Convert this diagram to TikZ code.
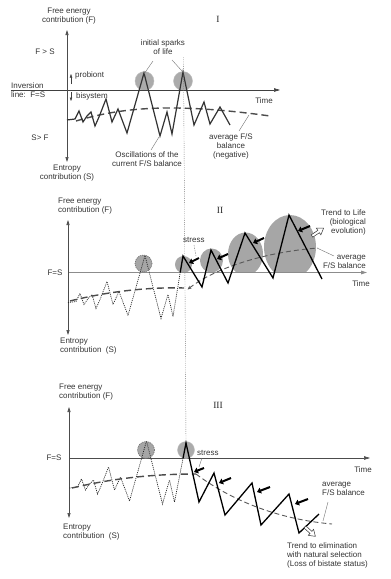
\documentclass[tikz,border=0pt]{standalone}
\usepackage{fontspec}
\setmainfont{Liberation Sans}
\newfontfamily\romfont{Liberation Serif}
\usetikzlibrary{arrows.meta}
\begin{document}
\begin{tikzpicture}[x=1pt,y=-1pt,
  lbl/.style={font=\fontsize{8}{9}\selectfont, text=black!80, inner sep=0pt, align=center},
  roman/.style={font=\romfont\fontsize{9.5}{10}\selectfont, text=black!85, inner sep=0pt},
  vaxis/.style={black!70, line width=0.6pt, {Triangle[length=5pt,width=3pt]}-{Triangle[length=5pt,width=3pt]}},
  timeax/.style={line width=0.6pt, -{Triangle[length=6pt,width=3.5pt]}},
  zig/.style={black!80, line width=1.2pt},
  zigB/.style={black, line width=1.3pt},
  dotz/.style={black!85, line width=0.7pt, dash pattern=on 1pt off 1pt},
  avgthick/.style={black!70, line width=1.4pt, dash pattern=on 7pt off 4pt},
  avgthin/.style={black!65, line width=0.9pt, dash pattern=on 5pt off 3pt},
  leader/.style={black!55, line width=0.4pt},
  sparkc/.style={fill=black!33, draw=black!25, line width=0.4pt},
  sparkdot/.style={fill=black!35, draw=black!60, line width=0.6pt, dash pattern=on 1pt off 1pt},
  domefill/.style={fill=black!35},
  stressarr/.style={black, line width=2pt, -{Triangle[length=4pt,width=6pt]}},
  hollow/.style={draw=black!80, fill=white, line width=0.5pt},
]
\useasboundingbox (0,0) rectangle (391,579);

% ================= Panel I =================
\fill[sparkc] (144.5,81) circle[radius=9.5pt];
\fill[sparkc] (183,81) circle[radius=9.5pt];
\coordinate (i0) at (11,90);
\coordinate (i1) at (280,90);
\draw[timeax, black!75] (i0) -- (i1);
\coordinate (a1t) at (67,30);
\coordinate (a1b) at (67,162);
\draw[vaxis] (a1t) -- (a1b);
% probiont / bisystem arrows
\coordinate (pu0) at (71,84); \coordinate (pu1) at (71,74);
\coordinate (pd0) at (71,92); \coordinate (pd1) at (71,101);
\draw[black!75, line width=0.5pt, -{Triangle[length=3.5pt,width=2.5pt]}] (pu0) -- (pu1);
\draw[black!75, line width=0.5pt, -{Triangle[length=3.5pt,width=2.5pt]}] (pd0) -- (pd1);
% average dashed
\draw[avgthick] (76,121) .. controls (120,108) and (170,102) .. (270,116);
% zigzag
\draw[zig] (67,120) -- (75,119) -- (79,111) -- (83,122) -- (87,116) -- (91,112) -- (95,126) -- (99,117) -- (106,99) -- (112,122) -- (118,109) -- (127,133) -- (144,73) -- (160,136) -- (167,112) -- (172,134) -- (183,72) -- (194,125) -- (204,102) -- (210,124) -- (220,107) -- (230,125);
% dotted vertical
\coordinate (vt) at (183.5,57);
\coordinate (vb) at (186,442);
\draw[black!55, line width=0.4pt, dash pattern=on 1pt off 1.2pt] (vt) -- (vb);
% labels
\node[lbl] (fe1) at (69,16.5) {Free energy\\contribution (F)};
\node[lbl] (fs1) at (45,52) {F > S};
\node[lbl] (sf1) at (40,138) {S> F};
\node[lbl, anchor=west, align=left] (inv) at (11,90.5) {Inversion\\line:\ \ F=S};
\node[lbl] (en1) at (67,173.5) {Entropy\\contribution (S)};
\node[roman] (r1) at (218,19) {I};
\node[lbl] (t1) at (264,101) {Time};
\node[lbl] (sp) at (163,47) {initial sparks\\of life};
\node[lbl] (osc) at (147,159.5) {Oscillations of the\\current F/S balance};
\node[lbl] (avg1) at (231,146) {average F/S\\balance\\(negative)};
\node[lbl, anchor=west] (pb) at (75,75) {probiont};
\node[lbl, anchor=west] (bs) at (76,96) {bisystem};
% leaders
\coordinate (l1a) at (153,61); \coordinate (l1b) at (144,74);
\coordinate (l2a) at (172,60); \coordinate (l2b) at (182,71);
\coordinate (l3a) at (151,150); \coordinate (l3b) at (159,137);
\coordinate (l4a) at (239,131); \coordinate (l4b) at (249,115);
\draw[leader] (l1a) -- (l1b);
\draw[leader] (l2a) -- (l2b);
\draw[leader] (l3a) -- (l3b);
\draw[leader] (l4a) -- (l4b);

% ================= Panel II =================
\begin{scope}
\clip (0,0) rectangle (391,272.5);
\fill[domefill] (183.5,264.5) circle[radius=8.5pt];
\fill[domefill] (211.5,260.5) ellipse[x radius=11.5pt, y radius=12pt];
\fill[domefill] (245.5,254) ellipse[x radius=17.5pt, y radius=21.5pt];
\fill[domefill] (290,247) ellipse[x radius=26pt, y radius=32pt];
\end{scope}
\coordinate (h2a) at (68,272.5);
\coordinate (h2b) at (367,272.5);
\draw[timeax, black!45, line width=1.1pt] (h2a) -- (h2b);
\coordinate (a2t) at (68,220);
\coordinate (a2b) at (68,335);
\draw[vaxis] (a2t) -- (a2b);
\begin{scope}[shift={(1,182.5)}]
\fill[sparkdot] (142.5,81) circle[radius=8.5pt];
\draw[dotz] (67,120) -- (75,119) -- (79,111) -- (83,122) -- (87,116) -- (91,112) -- (95,126) -- (99,117) -- (106,99) -- (112,122) -- (118,109) -- (127,133) -- (144,73) -- (160,136) -- (167,112) -- (172,134) -- (179.2,90);
\end{scope}
\draw[avgthick] (70,301) .. controls (110,291) and (150,287) .. (184,288);
\draw[avgthin, {Stealth[length=4pt,width=3.5pt]}-] (187.5,289.5) .. controls (215,268) and (265,252) .. (318,248);
\draw[zigB] (180.2,272.5) -- (183,256) -- (202,287) -- (211,250) -- (228,283) -- (245,233) -- (273,278) -- (289,215) -- (322,279);
% stress arrows
\draw[stressarr] (199,258) -- (189,263);
\draw[stressarr] (228,254) -- (217,259);
\draw[stressarr] (264,238) -- (253,243);
\draw[stressarr] (310,226) -- (298,231);
% hollow arrow
\begin{scope}[shift={(312,236)}, rotate=34]
\draw[hollow] (0,-1.4) -- (8,-1.4) -- (8,-4) -- (14,0) -- (8,4) -- (8,1.4) -- (0,1.4) -- cycle;
\end{scope}
% labels
\node[lbl, anchor=west, align=left] (fe2) at (58,206.5) {Free energy\\contribution (F)};
\node[lbl] (fs2) at (55,272.5) {F=S};
\node[lbl, anchor=west, align=left] (en2) at (60,346.5) {Entropy\\contribution\ \ (S)};
\node[roman] (r2) at (220,210) {II};
\node[lbl, anchor=west] (st2) at (183,240) {stress};
\node[lbl, anchor=east, align=right] (tl) at (366,222) {Trend to Life\\(biological\\evolution)};
\node[lbl, anchor=east, align=right] (avg2) at (366,261.5) {average\\F/S balance};
\node[lbl] (t2) at (361,284) {Time};
\coordinate (s2a) at (194,245); \coordinate (s2b) at (196,256);
\draw[leader, dash pattern=on 1.5pt off 1pt] (s2a) -- (s2b);
\coordinate (l5a) at (334,256); \coordinate (l5b) at (317,248);
\draw[leader] (l5a) -- (l5b);

% ================= Panel III =================
\coordinate (h3a) at (69,458);
\coordinate (h3b) at (370,458);
\draw[timeax, black!70] (h3a) -- (h3b);
\coordinate (a3t) at (69,407);
\coordinate (a3b) at (69,518);
\draw[vaxis] (a3t) -- (a3b);
\fill[sparkc] (186,450) circle[radius=8.5pt];
\begin{scope}[shift={(2.5,368)}]
\fill[sparkdot] (143.5,82) circle[radius=8.5pt];
\draw[dotz] (67,120) -- (75,119) -- (79,111) -- (83,122) -- (87,116) -- (91,112) -- (95,126) -- (99,117) -- (106,99) -- (112,122) -- (118,109) -- (127,133) -- (144,73) -- (160,136) -- (167,112) -- (172,134) -- (180.6,90);
\end{scope}
\draw[avgthick] (72,488) .. controls (110,479) and (150,474) .. (196,474);
\draw[avgthin] (196,474) .. controls (220,492) and (265,518) .. (332,524);
\draw[zigB] (183.1,458) -- (186,443) -- (199,502) -- (214,473) -- (225,515) -- (252,483) -- (261,525) -- (289,494) -- (299,533) -- (319,514);
\draw[stressarr] (204,468) -- (194,472);
\draw[stressarr] (231,478) -- (219,483);
\draw[stressarr] (270,487) -- (257,492);
\draw[stressarr] (308,499) -- (295,504);
\begin{scope}[shift={(305,527)}, rotate=-42]
\draw[hollow] (0,-1.4) -- (8,-1.4) -- (8,-4) -- (14,0) -- (8,4) -- (8,1.4) -- (0,1.4) -- cycle;
\end{scope}
\node[lbl, anchor=west, align=left] (fe3) at (59,392) {Free energy\\contribution (F)};
\node[lbl] (fs3) at (54,458) {F=S};
\node[lbl, anchor=west, align=left] (en3) at (63,532) {Entropy\\contribution\ \ (S)};
\node[roman] (r3) at (218,405) {III};
\node[lbl, anchor=west] (st3) at (197,453) {stress};
\node[lbl] (t3) at (363,470) {Time};
\node[lbl, anchor=west, align=left] (avg3) at (322,488.5) {average\\F/S balance};
\node[lbl, anchor=west, align=left] (te) at (287,555) {Trend to elimination\\with natural selection\\(Loss of bistate status)};
\coordinate (s3a) at (202,458); \coordinate (s3b) at (199,467);
\draw[leader] (s3a) -- (s3b);
\coordinate (l6a) at (328,502); \coordinate (l6b) at (323,521);
\draw[leader] (l6a) -- (l6b);
\end{tikzpicture}
\end{document}
